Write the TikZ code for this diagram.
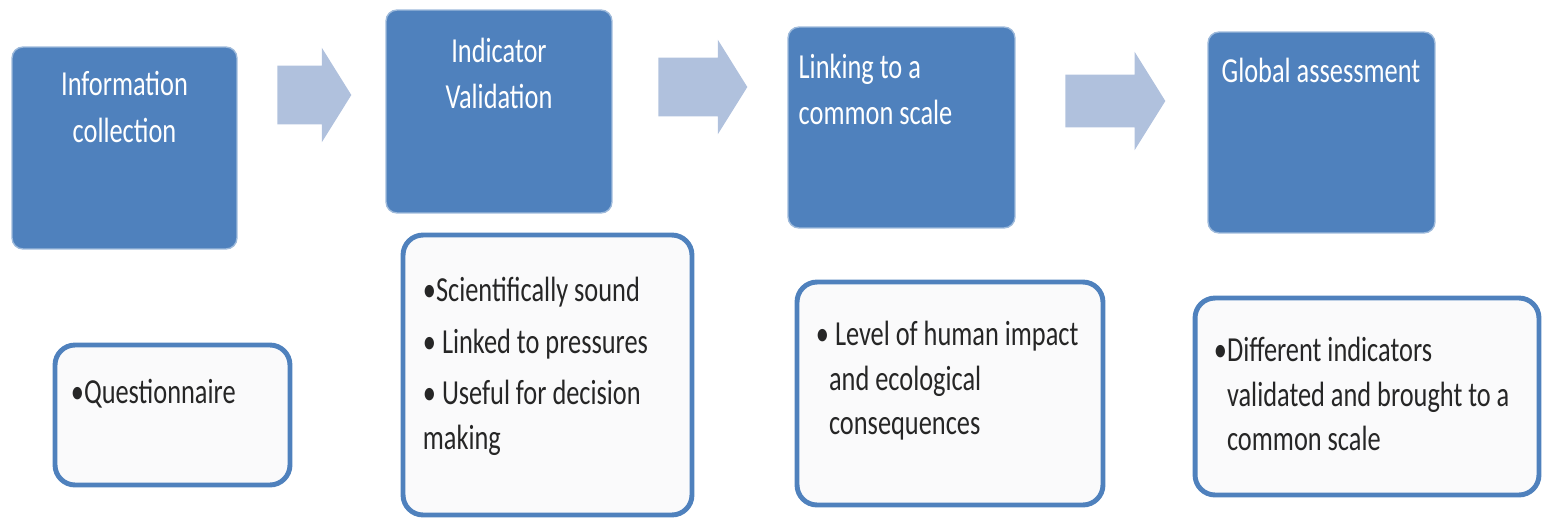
\documentclass[tikz,border=0pt]{standalone}
\usepackage{fontspec}
\setmainfont{Carlito}[FakeStretch=0.75]
\usetikzlibrary{shapes.arrows,positioning}
\definecolor{boxblue}{HTML}{4F81BD}
\definecolor{arrowblue}{HTML}{B0C1DD}
\definecolor{notefill}{HTML}{FAFAFB}
\newcommand{\hangpad}{\hphantom{•}}
\tikzset{
  stage/.style={fill=boxblue, draw=boxblue!55!white, line width=0.8pt, rounded corners=0.22cm, inner sep=0pt},
  stagetext/.style={text=white, font=\fontsize{20}{26.5}\selectfont, inner sep=0pt},
  note/.style={draw=boxblue, fill=notefill, line width=2.8pt, rounded corners=0.4cm, inner sep=0pt},
  notetext/.style={text=black!85, font=\fontsize{20}{25.5}\selectfont, inner sep=0pt, anchor=north west, align=left},
  flow/.style={single arrow, fill=arrowblue, inner sep=0pt, anchor=tail, text height=1.16cm, text depth=0pt,
    single arrow head extend=0.36cm, single arrow tip angle=116},
}
\begin{document}
\begin{tikzpicture}[x=0.02cm, y=-0.02cm]  % assessment steps
  \useasboundingbox (0,0) rectangle (1542,521);
  % top row
  \node[stage, minimum width=4.5cm, minimum height=4.04cm] (info) at (124.5,148) {};
  \node[stagetext, align=center, anchor=north] (infotxt) at ([yshift=-0.5cm]info.north) {Information\\collection};
  \node[stage, minimum width=4.52cm, minimum height=4.06cm] (valid) at (499,111.5) {};
  \node[stagetext, align=center, anchor=north] (validtxt) at ([yshift=-0.56cm]valid.north) {Indicator\\Validation};
  \node[stage, minimum width=4.54cm, minimum height=4.02cm] (link) at (901.5,127.5) {};
  \node[stagetext, align=left, anchor=north west] (linktxt) at ([xshift=0.22cm, yshift=-0.54cm]link.north west) {Linking to a\\common scale};
  \node[stage, minimum width=4.54cm, minimum height=4.02cm] (glob) at (1321.5,132.5) {};
  \node[stagetext, anchor=north west] (globtxt) at ([xshift=0.28cm, yshift=-0.52cm]glob.north west) {Global assessment};
  % block arrows
  \node[flow, minimum height=1.48cm] (arr1) at (277,95) {};
  \node[flow, minimum height=1.78cm] (arr2) at (658,87) {};
  \node[flow, minimum height=2cm, text height=1.04cm, single arrow head extend=0.46cm] (arr3) at (1065,101) {};
  % bottom row
  \node[note, minimum width=4.7cm, minimum height=2.8cm] (quest) at (172.5,415) {};
  \node[notetext] (questtxt) at ([xshift=0.36cm, yshift=-0.72cm]quest.north west) {•Questionnaire};
  \node[note, minimum width=5.78cm, minimum height=5.6cm] (crit) at (547.5,375) {};
  \node[notetext] (crittxt) at ([xshift=0.44cm, yshift=-0.88cm]crit.north west) {•Scientifically sound\\[4pt]• Linked to pressures\\[4pt]• Useful for decision\\making};
  \node[note, minimum width=6.12cm, minimum height=4.46cm] (impact) at (950,393.5) {};
  \node[notetext] (impacttxt) at ([xshift=0.42cm, yshift=-0.82cm]impact.north west) {• Level of human impact\\\hangpad and ecological\\\hangpad consequences};
  \node[note, minimum width=6.88cm, minimum height=3.94cm] (scale) at (1367,396.5) {};
  \node[notetext] (scaletxt) at ([xshift=0.42cm, yshift=-0.82cm]scale.north west) {•Different indicators\\\hangpad validated and brought to a\\\hangpad common scale};
\end{tikzpicture}
\end{document}
